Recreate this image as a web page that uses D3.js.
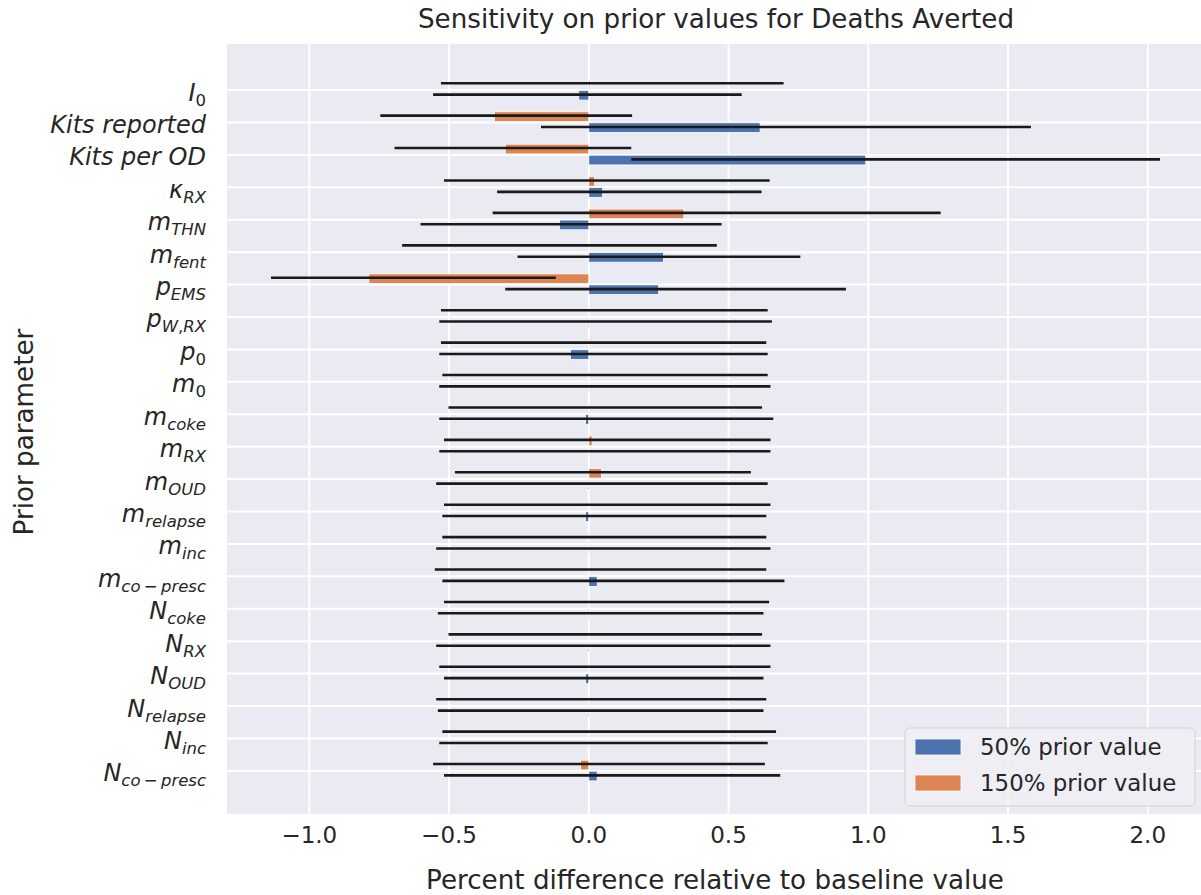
<!DOCTYPE html>
<html>
<head>
<meta charset="utf-8">
<script src="https://cdn.jsdelivr.net/npm/d3@7/dist/d3.min.js"></script>
<style>
    body { margin: 0; background: #ffffff; }
    svg { display: block; font-family: "DejaVu Sans", sans-serif; }
</style>
</head>
<body>
<svg id="chart" width="1201" height="895"></svg>
<script>
// Prior parameters, top to bottom (base symbol + subscript)
var paramBase = ["I", "Kits reported", "Kits per OD", "κ", "m", "m", "p", "p", "p", "m", "m",
    "m", "m", "m", "m", "m", "N", "N", "N", "N", "N", "N"];
var paramSub = ["0", "", "", "RX", "THN", "fent", "EMS", "W,RX", "0", "0", "coke",
    "RX", "OUD", "relapse", "inc", "co\u2009−\u2009presc", "coke", "RX", "OUD", "relapse", "inc", "co\u2009−\u2009presc"];

// 50% prior value: bar value and error line ends
var blueVal = [-0.036, 0.613, 0.991, 0.049, -0.105, 0.267, 0.25, -0.003, -0.066, 0.002, -0.012,
    0.002, -0.003, -0.012, 0.002, 0.03, -0.003, -0.003, -0.012, -0.003, 0.002, 0.03];
var blueLo = [-0.557, -0.171, 0.152, -0.328, -0.602, -0.255, -0.299, -0.535, -0.535, -0.535, -0.535,
    -0.535, -0.546, -0.524, -0.546, -0.524, -0.540, -0.546, -0.518, -0.540, -0.535, -0.518];
var blueHi = [0.547, 1.582, 2.044, 0.618, 0.475, 0.757, 0.92, 0.655, 0.64, 0.65, 0.66,
    0.65, 0.64, 0.635, 0.65, 0.70, 0.625, 0.65, 0.625, 0.625, 0.64, 0.685];

// 150% prior value
var orangeVal = [0.004, -0.338, -0.299, 0.021, 0.34, 0.002, -0.787, 0.002, 0.003, 0.002, 0.003,
    0.012, 0.045, 0.002, 0.003, 0.002, 0.002, 0.002, 0.002, 0.003, 0.002, -0.03];
var orangeLo = [-0.529, -0.746, -0.695, -0.518, -0.344, -0.668, -1.137, -0.529, -0.529, -0.524, -0.502,
    -0.518, -0.479, -0.518, -0.524, -0.551, -0.518, -0.502, -0.535, -0.546, -0.524, -0.557];
var orangeHi = [0.697, 0.155, 0.152, 0.647, 1.259, 0.458, -0.118, 0.64, 0.635, 0.64, 0.62,
    0.65, 0.58, 0.65, 0.635, 0.635, 0.645, 0.62, 0.65, 0.635, 0.67, 0.63];

var xTicks = [-1.0, -0.5, 0.0, 0.5, 1.0, 1.5, 2.0];
var seriesNames = ["50% prior value", "150% prior value"];
var seriesColors = ["#4c72b0", "#dd8452"];

var textColor = "#262626";
var svg = d3.select("#chart");

var plot = { left: 227, right: 1204.5, top: 44, bottom: 814 };

var x = d3.scaleLinear().domain([-1.2945, 2.203]).range([plot.left, plot.right]);
var y = d3.scaleLinear().domain([-1.42, 22.33]).range([plot.top, plot.bottom]);

svg.append("defs").append("clipPath").attr("id", "clip")
    .append("rect")
    .attr("x", plot.left).attr("y", plot.top)
    .attr("width", plot.right - plot.left).attr("height", plot.bottom - plot.top);

svg.append("rect")
    .attr("x", plot.left).attr("y", plot.top)
    .attr("width", plot.right - plot.left).attr("height", plot.bottom - plot.top)
    .attr("fill", "#eaeaf2");

var g = svg.append("g").attr("clip-path", "url(#clip)");

// Grid
g.selectAll("line.vgrid").data(xTicks).enter().append("line")
    .attr("x1", function(d) { return x(d); }).attr("x2", function(d) { return x(d); })
    .attr("y1", plot.top).attr("y2", plot.bottom)
    .attr("stroke", "#ffffff").attr("stroke-width", 2);

g.selectAll("line.hgrid").data(paramBase).enter().append("line")
    .attr("x1", plot.left).attr("x2", plot.right)
    .attr("y1", function(d, i) { return y(i); }).attr("y2", function(d, i) { return y(i); })
    .attr("stroke", "#ffffff").attr("stroke-width", 2);

// Bars: orange above the tick, blue below
var barH = 0.3;
var series = [
    { vals: blueVal, lo: blueLo, hi: blueHi, top: 0.01, err: 0.14, color: seriesColors[0] },
    { vals: orangeVal, lo: orangeLo, hi: orangeHi, top: -0.33, err: -0.21, color: seriesColors[1] }
];

series.forEach(function(s) {
    g.selectAll(null).data(s.vals).enter().append("rect")
        .attr("x", function(d) { return x(Math.min(0, d)); })
        .attr("y", function(d, i) { return y(i + s.top); })
        .attr("width", function(d) { return Math.abs(x(d) - x(0)); })
        .attr("height", y(barH) - y(0))
        .attr("fill", s.color)
        .attr("stroke", "#ffffff").attr("stroke-width", 0.8);
});

// Error lines
series.forEach(function(s) {
    g.selectAll(null).data(s.lo).enter().append("line")
        .attr("x1", function(d) { return x(d); })
        .attr("x2", function(d, i) { return x(s.hi[i]); })
        .attr("y1", function(d, i) { return y(i + s.err); })
        .attr("y2", function(d, i) { return y(i + s.err); })
        .attr("stroke", "#1a1a1a").attr("stroke-width", 2.6);
});

// X tick labels
svg.selectAll("text.xtick").data(xTicks).enter().append("text")
    .attr("x", function(d) { return x(d); })
    .attr("y", 843)
    .attr("text-anchor", "middle")
    .attr("font-size", 23)
    .attr("fill", textColor)
    .text(function(d) { return d3.format(".1f")(d).replace("-", "−"); });

// Y tick labels, mathtext-like with subscripts
var fs = 24;
paramBase.forEach(function(base, i) {
    var t = svg.append("text")
        .attr("x", 206)
        .attr("y", y(i) + 10.5)
        .attr("text-anchor", "end")
        .attr("font-size", fs)
        .attr("fill", textColor);
    t.append("tspan").attr("font-style", "italic").text(base);
    var sub = paramSub[i];
    if (sub.length) {
        var parts = sub.match(/[A-Za-z]+|[^A-Za-z]+/g);
        parts.forEach(function(p, k) {
            var ts = t.append("tspan")
                .attr("font-size", 16.5)
                .attr("font-style", /[A-Za-z]/.test(p) ? "italic" : "normal")
                .text(p);
            if (k == 0) ts.attr("dy", 5);
        });
    }
});

// Axis labels and title
svg.append("text")
    .attr("x", 716).attr("y", 28)
    .attr("text-anchor", "middle")
    .attr("font-size", 26.2).attr("fill", textColor)
    .text("Sensitivity on prior values for Deaths Averted");

svg.append("text")
    .attr("x", 715).attr("y", 889)
    .attr("text-anchor", "middle")
    .attr("font-size", 26.2).attr("fill", textColor)
    .text("Percent difference relative to baseline value");

svg.append("text")
    .attr("transform", "translate(33," + ((plot.top + plot.bottom) / 2 + 3) + ") rotate(-90)")
    .attr("text-anchor", "middle")
    .attr("font-size", 26.2).attr("fill", textColor)
    .text("Prior parameter");

// Legend
var legend = svg.append("g").attr("transform", "translate(905,728)");
legend.append("rect")
    .attr("width", 290).attr("height", 78).attr("rx", 5)
    .attr("fill", "#eeeef4").attr("fill-opacity", 0.9)
    .attr("stroke", "#d0d0d6").attr("stroke-width", 1);

seriesNames.forEach(function(name, i) {
    legend.append("rect")
        .attr("x", 10).attr("y", 11 + i * 36)
        .attr("width", 46).attr("height", 16)
        .attr("fill", seriesColors[i])
        .attr("stroke", "#ffffff").attr("stroke-width", 0.8);
    legend.append("text")
        .attr("x", 75).attr("y", 27 + i * 36)
        .attr("font-size", 22.9).attr("fill", textColor)
        .text(name);
});
</script>
</body>
</html>
